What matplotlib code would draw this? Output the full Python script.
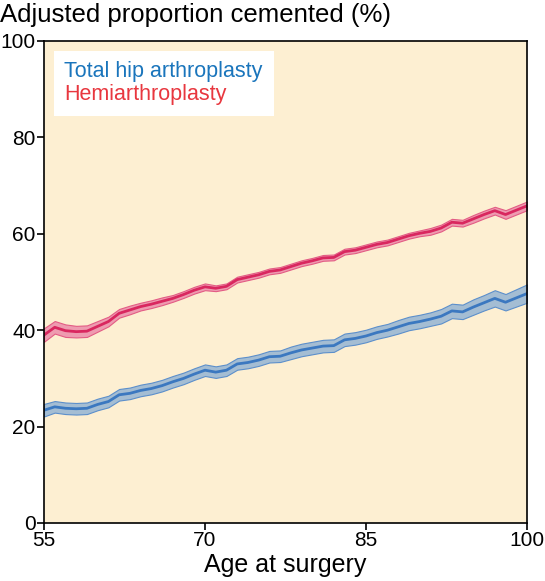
import numpy as np
import matplotlib.pyplot as plt
from matplotlib.lines import Line2D

plt.rcParams['font.family'] = ['Liberation Sans', 'DejaVu Sans']

ages = list(range(55, 101))

tha = [23.4, 24.1, 23.8, 23.7, 23.8, 24.6, 25.2, 26.6, 26.9, 27.5,
       27.9, 28.5, 29.3, 30.0, 30.9, 31.7, 31.3, 31.7, 33.0, 33.3,
       33.8, 34.5, 34.6, 35.3, 35.9, 36.3, 36.7, 36.8, 38.0, 38.3,
       38.8, 39.5, 40.0, 40.7, 41.4, 41.8, 42.3, 42.9, 44.0, 43.8,
       44.8, 45.7, 46.6, 45.8, 46.7, 47.6]
tha_ci = [1.3, 1.2, 1.2, 1.2, 1.2, 1.2, 1.2, 1.2, 1.2, 1.2,
          1.2, 1.2, 1.2, 1.2, 1.2, 1.2, 1.2, 1.2, 1.2, 1.2,
          1.2, 1.2, 1.2, 1.3, 1.3, 1.3, 1.3, 1.3, 1.3, 1.3,
          1.3, 1.3, 1.3, 1.4, 1.4, 1.4, 1.4, 1.5, 1.5, 1.5,
          1.6, 1.6, 1.7, 1.7, 1.8, 1.9]

hemi = [39.0, 40.6, 39.9, 39.7, 39.8, 40.8, 41.8, 43.5, 44.2, 44.9,
        45.4, 46.0, 46.6, 47.4, 48.3, 49.0, 48.7, 49.1, 50.5, 51.0,
        51.5, 52.2, 52.5, 53.2, 53.9, 54.4, 55.0, 55.1, 56.3, 56.6,
        57.2, 57.8, 58.2, 58.9, 59.6, 60.1, 60.5, 61.2, 62.4, 62.2,
        63.1, 64.0, 64.8, 64.0, 64.9, 65.8]
hemi_ci = [1.4, 1.3, 1.3, 1.2, 1.2, 1.1, 1.0, 0.9, 0.9, 0.8,
           0.8, 0.8, 0.7, 0.7, 0.7, 0.7, 0.6, 0.6, 0.6, 0.6,
           0.6, 0.6, 0.6, 0.6, 0.6, 0.6, 0.6, 0.6, 0.6, 0.6,
           0.6, 0.6, 0.6, 0.6, 0.6, 0.6, 0.7, 0.7, 0.7, 0.7,
           0.8, 0.8, 0.8, 0.9, 0.9, 0.9]

labels = ["Total hip arthroplasty", "Hemiarthroplasty"]
xticks = [55, 70, 85, 100]
yticks = [0, 20, 40, 60, 80, 100]

x = np.array(ages)
fig = plt.figure(figsize=(5.45, 5.81), dpi=100)
ax = fig.add_axes([44 / 545, 1 - 523 / 581, 483 / 545, 482 / 581])
ax.set_facecolor('#FDEFD2')

series = [
    (np.array(tha), np.array(tha_ci), '#3B78C0', '#A4BDD3', '#5C8FCB'),
    (np.array(hemi), np.array(hemi_ci), '#D9275F', '#EE9BB0', '#E35C85'),
]
for y, ci, lc, fc, ec in series:
    ax.fill_between(x, y - ci, y + ci, facecolor=fc, edgecolor=ec, linewidth=0.8)
    ax.plot(x, y, color=lc, linewidth=2)

ax.set_xlim(55, 100)
ax.set_ylim(0, 100)
ax.set_xticks(xticks)
ax.set_yticks(yticks)
ax.tick_params(labelsize=15, length=5, width=1.2, direction='out', pad=1)
for s in ax.spines.values():
    s.set_linewidth(1.2)

ax.set_xlabel("Age at surgery", fontsize=18, labelpad=2)
fig.text(0.0, 1 - 3 / 581, "Adjusted proportion cemented (%)", fontsize=18.5, va='top', ha='left')

handles = [Line2D([], [], color='none'), Line2D([], [], color='none')]
leg = ax.legend(handles, labels, loc='upper left', handlelength=0, handletextpad=0,
                labelcolor=['#1A75BC', '#E8373F'], fontsize=15.5, frameon=True,
                fancybox=False, framealpha=1, borderaxespad=0.45, labelspacing=0.08,
                borderpad=0.5)
leg.get_frame().set_edgecolor('none')
leg.get_frame().set_facecolor('white')

fig.savefig('out.png', dpi=100)
